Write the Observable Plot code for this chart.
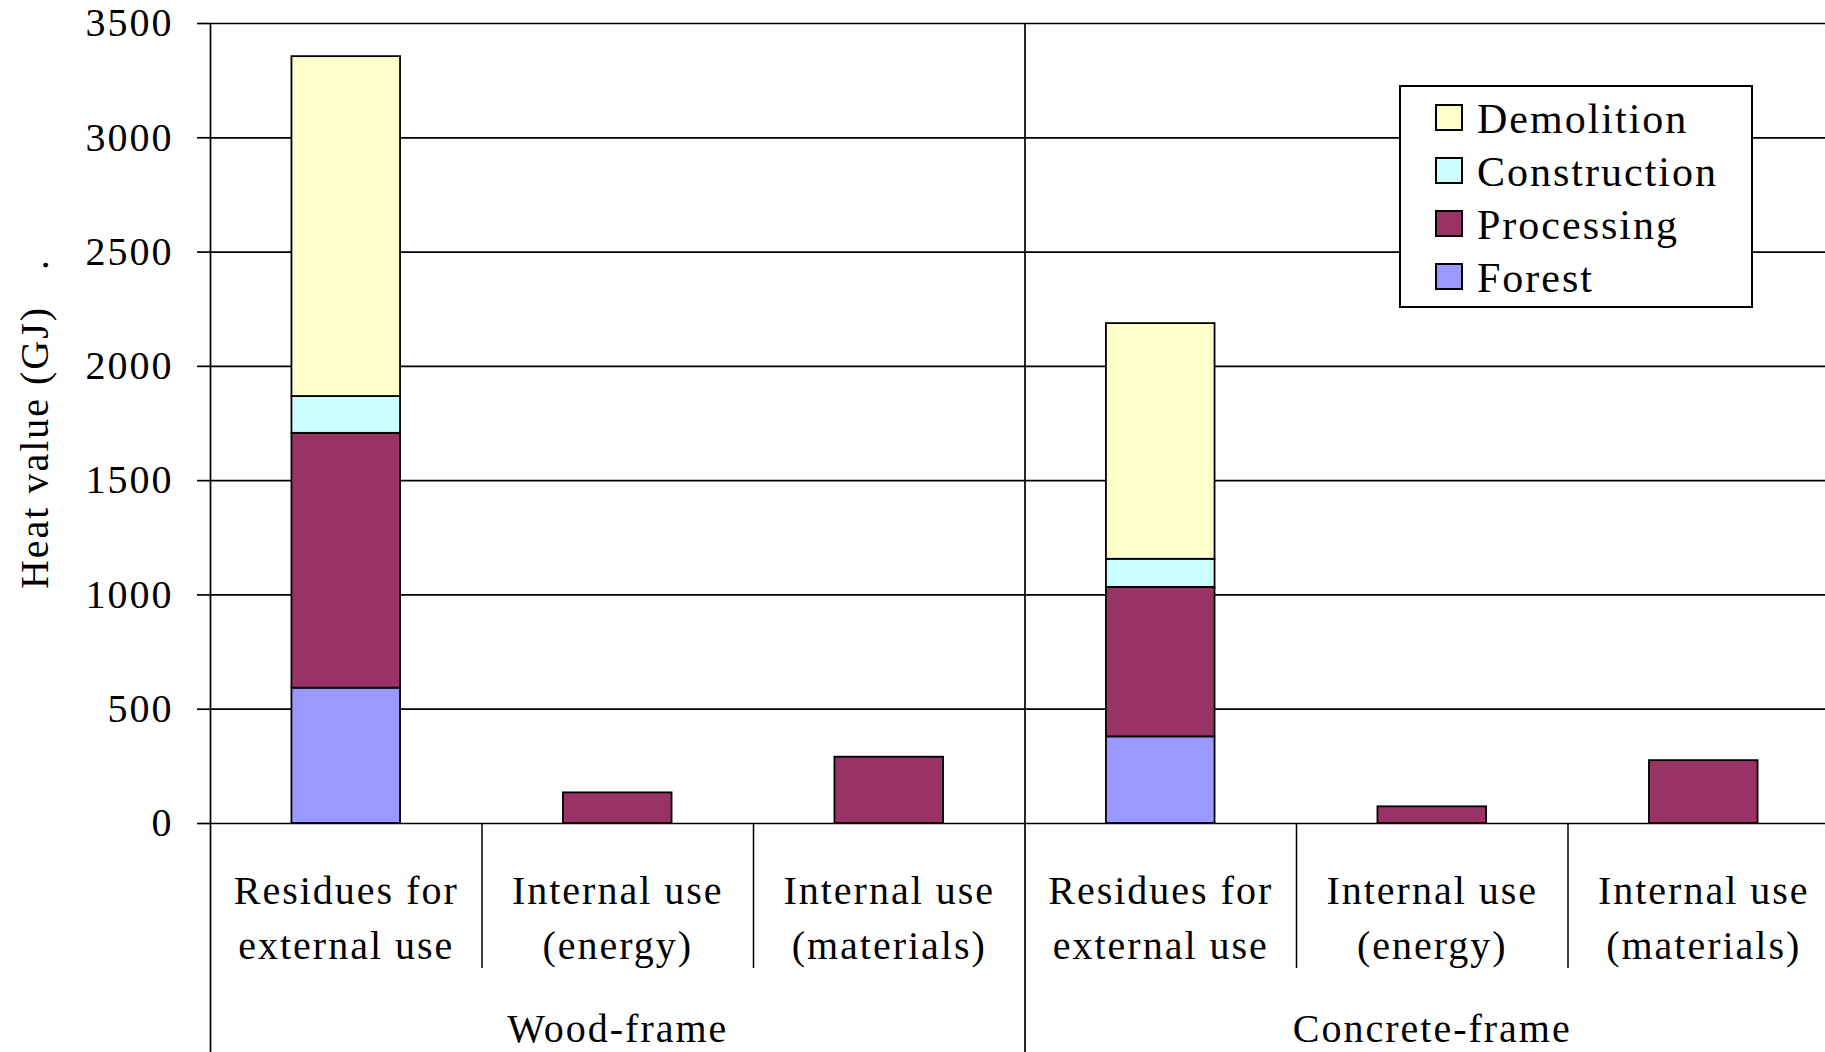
<!DOCTYPE html>
<html>
<head>
<meta charset="utf-8">
<script src="https://cdn.jsdelivr.net/npm/d3@7"></script>
<script src="https://cdn.jsdelivr.net/npm/@observablehq/plot@0.6"></script>
<style>
  body { margin: 0; background: #fff; }
  #wrap { position: relative; width: 1825px; height: 1052px; overflow: hidden; font-family: "Liberation Serif", "Times New Roman", serif; }
  #legend { position: absolute; left: 1399px; top: 85px; width: 354px; height: 223px; box-sizing: border-box; border: 2px solid #000; background: #fff; }
  .sw { position: absolute; width: 28px; height: 27px; box-sizing: border-box; border: 2px solid #000; }
  .lt { position: absolute; font-size: 42px; letter-spacing: 2px; line-height: 46px; white-space: nowrap; color: #000; }
</style>
</head>
<body>
<div id="wrap"></div>
<script>
// ---- data ----
const groups = ["Wood-frame", "Concrete-frame"];
const uses = ["Residues for\nexternal use", "Internal use\n(energy)", "Internal use\n(materials)"];
const stages = ["Forest", "Processing", "Construction", "Demolition"];
const stageColors = ["#9999FF", "#993366", "#CCFFFF", "#FFFFCC"];

// values per use category (Residues, Internal energy, Internal materials)
const woodForest       = [592, 0, 0];
const woodProcessing   = [1115, 134, 290];
const woodConstruction = [161, 0, 0];
const woodDemolition   = [1487, 0, 0];

const concreteForest       = [379, 0, 0];
const concreteProcessing   = [654, 73, 275];
const concreteConstruction = [123, 0, 0];
const concreteDemolition   = [1031, 0, 0];

const yTicks = [0, 500, 1000, 1500, 2000, 2500, 3000, 3500];
const yLabel = "Heat value (GJ)   .";

// ---- build table ----
const values = [
  [woodForest, woodProcessing, woodConstruction, woodDemolition],
  [concreteForest, concreteProcessing, concreteConstruction, concreteDemolition]
];
const rows = [];
const catLabels = [];
groups.forEach((g, gi) => {
  uses.forEach((u, ui) => {
    const idx = gi * uses.length + ui;
    catLabels.push({x: idx + 0.5, label: u});
    let acc = 0;
    stages.forEach((s, si) => {
      const v = values[gi][si][ui];
      if (v > 0) {
        rows.push({x1: idx + 0.3, x2: idx + 0.7, y1: acc, y2: acc + v, stage: s});
        acc += v;
      }
    });
  });
});
const groupLabels = groups.map((g, gi) => ({x: gi * uses.length + uses.length / 2, label: g}));
const nCat = groups.length * uses.length;
const innerSeps = d3.range(1, nCat).filter(i => i % uses.length !== 0);
const groupSeps = d3.range(0, nCat + 1, uses.length);

const plot = Plot.plot({
  width: 1825,
  height: 1052,
  marginLeft: 210,
  marginRight: -14,
  marginTop: 23,
  marginBottom: 229,
  style: {fontFamily: "'Liberation Serif', 'Times New Roman', serif", fontSize: "40px", letterSpacing: "2px", color: "#000", background: "#fff"},
  x: {domain: [0, nCat]},
  y: {domain: [0, 3500]},
  color: {domain: stages, range: stageColors},
  marks: [
    Plot.ruleY(yTicks, {stroke: "#000", strokeWidth: 1.7}),
    Plot.axisY({ticks: yTicks, tickSize: 13, tickPadding: 24, strokeWidth: 1.7, fontSize: 40, label: null, tickFormat: d => String(d)}),
    Plot.ruleX(groupSeps.filter(d => d < nCat), {stroke: "#000", strokeWidth: 1.7}),
    Plot.axisX({ticks: innerSeps, tickSize: 145, tickFormat: () => "", strokeWidth: 1.5, label: null}),
    Plot.axisX({ticks: groupSeps, tickSize: 229, tickFormat: () => "", strokeWidth: 1.7, label: null}),
    Plot.rect(rows, {x1: "x1", x2: "x2", y1: "y1", y2: "y2", fill: "stage", stroke: "#000", strokeWidth: 1.8}),
    Plot.text(catLabels, {x: "x", text: "label", frameAnchor: "bottom", lineAnchor: "top", lineHeight: 1.375, dy: 41, fontSize: 40, fill: "#000"}),
    Plot.text(groupLabels, {x: "x", text: "label", frameAnchor: "bottom", lineAnchor: "top", dy: 190, fontSize: 40, fill: "#000"}),
    Plot.text([yLabel], {frameAnchor: "left", textAnchor: "middle", rotate: -90, dx: -175, fontSize: 40, fill: "#000", ariaLabel: "ylabel"})
  ]
});

d3.select(plot).selectAll('g[aria-label="ylabel"] text').style("letter-spacing", "0px");

const wrap = document.getElementById("wrap");
wrap.appendChild(plot);

// ---- legend (top-down order: Demolition, Construction, Processing, Forest) ----
const legend = document.createElement("div");
legend.id = "legend";
wrap.appendChild(legend);
const legendOrder = stages.map((s, i) => ({s, c: stageColors[i]})).reverse();
legendOrder.forEach((d, k) => {
  const sw = document.createElement("div");
  sw.className = "sw";
  sw.style.left = "1435px";
  sw.style.top = (104 + k * 53) + "px";
  sw.style.background = d.c;
  wrap.appendChild(sw);
  const t = document.createElement("div");
  t.className = "lt";
  t.style.left = "1477px";
  t.style.top = (96 + k * 53) + "px";
  t.textContent = d.s;
  wrap.appendChild(t);
});
</script>
</body>
</html>
